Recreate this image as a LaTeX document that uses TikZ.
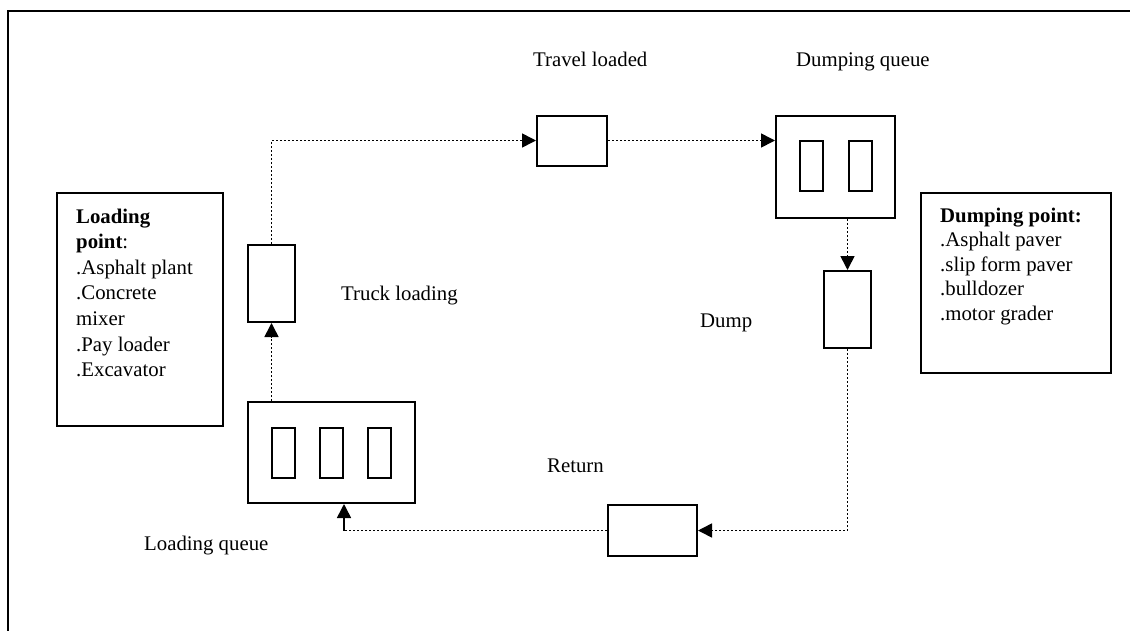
\documentclass[tikz,border=0pt]{standalone}
\usepackage{fontspec}
\setmainfont{Liberation Serif}
\usetikzlibrary{arrows.meta}
\begin{document}
\begin{tikzpicture}[x=1pt,y=-1pt,
  box/.style={draw,line width=2pt,rectangle,inner sep=0pt},
  flow/.style={line width=1.6pt,dash pattern=on 1.6pt off 2.4pt},
  tip/.style={-{Triangle[length=14pt,width=14pt]}},
  lbl/.style={inner sep=0pt,anchor=base west,font=\fontsize{20.8}{25}\selectfont},
  info/.style={inner sep=0pt,anchor=north west,align=left},
  ]
\useasboundingbox (0,0) rectangle (1130,630);
% outer frame
\coordinate (fa) at (1140,10.5);
\coordinate (fb) at (7.5,10.5);
\coordinate (fc) at (7.5,640);
\draw[line width=2pt] (fa) -- (fb) -- (fc);

% boxes
\node[box,minimum width=166pt,minimum height=233pt] (loadpt) at (140,309.5) {};
\node[box,minimum width=47pt,minimum height=77pt] (truck) at (271.5,283.5) {};
\node[box,minimum width=70pt,minimum height=50pt] (travel) at (572,140.5) {};
\node[box,minimum width=119pt,minimum height=102pt] (dq) at (835.5,167) {};
\node[box,minimum width=23pt,minimum height=50pt] (dq1) at (811.7,166.3) {};
\node[box,minimum width=23pt,minimum height=50pt] (dq2) at (860,166.3) {};
\node[box,minimum width=47pt,minimum height=77pt] (dump) at (847.5,309.5) {};
\node[box,minimum width=190pt,minimum height=180pt] (dpt) at (1016,283) {};
\node[box,minimum width=89pt,minimum height=51pt] (ret) at (652.5,530.5) {};
\node[box,minimum width=167pt,minimum height=101pt] (lq) at (331.5,452.5) {};
\node[box,minimum width=23pt,minimum height=50pt] (lq1) at (283.5,453) {};
\node[box,minimum width=23pt,minimum height=50pt] (lq2) at (331.5,453) {};
\node[box,minimum width=23pt,minimum height=50pt] (lq3) at (379.5,453) {};

% box texts
\node[info,font=\fontsize{20.8}{25.6}\selectfont] (loadtxt) at (76,208.5)
  {\textbf{Loading}\\\textbf{point}:\\.Asphalt plant\\.Concrete\\mixer\\.Pay loader\\.Excavator};
\node[info,font=\fontsize{20.8}{24.6}\selectfont] (dpttxt) at (940,207.5)
  {\textbf{Dumping point:}\\.Asphalt paver\\.slip form paver\\.bulldozer\\.motor grader};

% labels
\node[lbl] (ltravel) at (533,66) {Travel loaded};
\node[lbl] (ldq) at (796,66) {Dumping queue};
\node[lbl] (ltruck) at (341,300) {Truck loading};
\node[lbl] (ldump) at (700,327) {Dump};
\node[lbl] (lret) at (547,472) {Return};
\node[lbl] (llq) at (144,550) {Loading queue};

% connectors
\draw[flow,tip] (truck.south |- lq.north) -- (truck.south);
\draw[flow,tip] (truck.north) |- (travel.west);
\draw[flow,tip] (travel.east) -- (travel.east -| dq.west);
\draw[flow,tip] (dump.north |- dq.south) -- (dump.north);
\draw[flow,tip] (dump.south) |- (ret.east);
\coordinate (rc) at (344,530.5);
\draw[flow] (ret.west) -- (ret.west -| rc);
\draw[line width=1.6pt,tip] (ret.west -| rc) -- (rc |- lq.south);
\end{tikzpicture}
\end{document}
